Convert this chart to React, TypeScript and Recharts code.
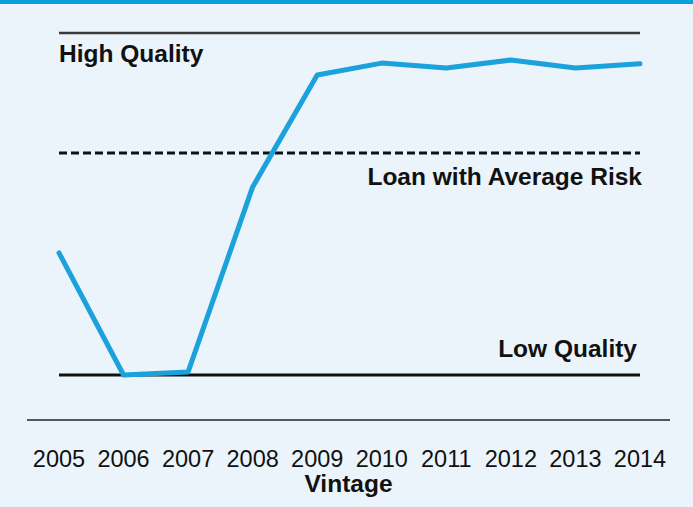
import { LineChart, Line, XAxis, YAxis, ReferenceLine } from 'recharts'

// quality score: 0 = low quality line, 100 = high quality line
const vintages = ['2005', '2006', '2007', '2008', '2009', '2010', '2011', '2012', '2013', '2014']
const quality = [35.7, 0, 0.9, 55.0, 87.7, 91.2, 89.8, 92.1, 89.8, 91.0]
const HIGH = 100
const AVERAGE = 64.9
const LOW = 0

const data = vintages.map((v, i) => ({ vintage: v, quality: quality[i] }))

const FONT = '"Liberation Sans", Arial, sans-serif'
const BOLD_SIZE = 24.5

const seg = (y: number) => [
  { x: vintages[0], y },
  { x: vintages[vintages.length - 1], y },
]

export default function App() {
  return (
    <div
      style={{
        position: 'absolute',
        left: 0,
        top: 0,
        width: 693,
        height: 507,
        background: '#eaf4fa',
        borderTop: '4px solid #0a9fdc',
        boxSizing: 'border-box',
        fontFamily: FONT,
      }}
    >
      <LineChart
        width={693}
        height={503}
        data={data}
        margin={{ top: 6, right: 23, bottom: 0, left: 27 }}
      >
        <YAxis hide domain={[-13.16, 106.73]} allowDataOverflow />
        <XAxis
          dataKey="vintage"
          height={87}
          padding={{ left: 32, right: 30 }}
          tickLine={false}
          axisLine={{ stroke: '#555', strokeWidth: 2 }}
          tickMargin={24}
          tick={{ fontSize: 23.5, fill: '#111', fontFamily: FONT }}
          interval={0}
          label={({ viewBox }: any) => (
            <text
              x={viewBox.x + viewBox.width / 2}
              y={viewBox.y + 72}
              textAnchor="middle"
              fontSize={BOLD_SIZE}
              fontWeight="bold"
              fill="#111"
              fontFamily={FONT}
            >
              Vintage
            </text>
          )}
        />
        <ReferenceLine
          segment={seg(HIGH)}
          stroke="#3a3a3a"
          strokeWidth={2.5}
          label={({ viewBox }: any) => (
            <text x={viewBox.x} y={viewBox.y + 29} fontSize={BOLD_SIZE} fontWeight="bold" fill="#111" fontFamily={FONT}>
              High Quality
            </text>
          )}
        />
        <ReferenceLine
          segment={seg(AVERAGE)}
          stroke="#111"
          strokeWidth={3}
          strokeDasharray="8 4"
          label={({ viewBox }: any) => (
            <text
              x={viewBox.x + viewBox.width + 2}
              y={viewBox.y + 32}
              textAnchor="end"
              fontSize={BOLD_SIZE}
              fontWeight="bold"
              fill="#111"
              fontFamily={FONT}
            >
              Loan with Average Risk
            </text>
          )}
        />
        <ReferenceLine
          segment={seg(LOW)}
          stroke="#111"
          strokeWidth={3}
          label={({ viewBox }: any) => (
            <text
              x={viewBox.x + viewBox.width - 3}
              y={viewBox.y - 18}
              textAnchor="end"
              fontSize={BOLD_SIZE}
              fontWeight="bold"
              fill="#111"
              fontFamily={FONT}
            >
              Low Quality
            </text>
          )}
        />
        <Line
          dataKey="quality"
          stroke="#1ba1dc"
          strokeWidth={5}
          dot={false}
          isAnimationActive={false}
          strokeLinejoin="round"
          strokeLinecap="round"
        />
      </LineChart>
    </div>
  )
}
